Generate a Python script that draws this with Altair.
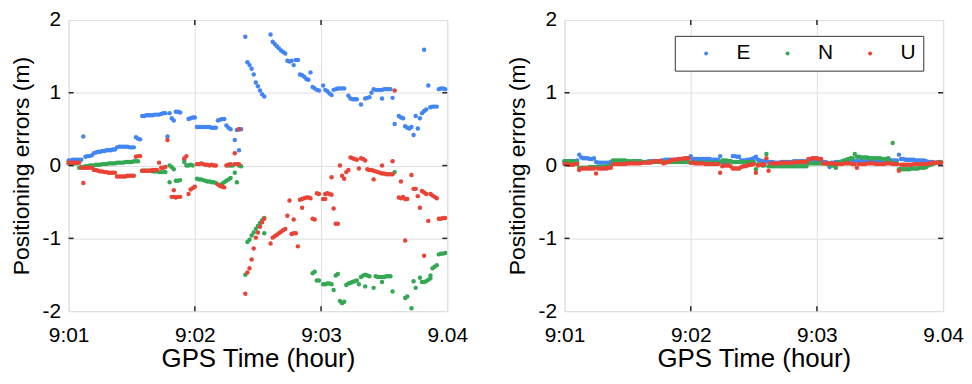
import altair as alt
import pandas as pd

# ---------------- data (time in seconds after 9:01, value in metres) ----------------
X_TICKS = [0, 60, 120, 180]
X_LABELS = ["9:01", "9:02", "9:03", "9.04"]
Y_TICKS = [-2, -1, 0, 1, 2]
INNER_X = [60, 120]
INNER_Y = [-1, 0, 1]
COMPONENTS = ["E", "N", "U"]
COLORS = ["#4285f4", "#34a853", "#ea4335"]

# each run: (start second, consecutive 1-s values)
LEFT_E = [
    (0, [0.07, 0.07, 0.08, 0.08, 0.08, 0.08, 0.08]), (7, [0.40]),
    (8, [0.12, 0.13, 0.13, 0.14]),
    (12, [0.17, 0.18, 0.19, 0.19, 0.20, 0.20, 0.21, 0.21, 0.21, 0.22, 0.22]),
    (23, [0.25, 0.26, 0.26, 0.26, 0.26, 0.26, 0.25, 0.25, 0.25]),
    (32, [0.39, 0.37, 0.36]),
    (35, [0.68, 0.68, 0.69, 0.69, 0.69, 0.69, 0.70, 0.70, 0.70, 0.71, 0.72, 0.72]),
    (47, [0.40]), (48, [0.72, 0.65, 0.62]), (51, [0.74, 0.74, 0.73]), (55, [0.08]),
    (57, [0.64, 0.65, 0.66, 0.66]),
    (61, [0.53, 0.53, 0.53, 0.53, 0.53, 0.53, 0.53, 0.52, 0.52, 0.52]),
    (71, [0.62, 0.63, 0.64, 0.64]), (75, [0.55, 0.52, 0.50]), (79, [0.35]),
    (80, [0.49, 0.50]), (81, [0.21]), (82, [0.50]),
    (84, [1.77, 1.42, 1.38, 1.33, 1.25, 1.14, 1.09, 1.03, 0.98, 0.95]),
    (96, [1.80, 1.70, 1.67, 1.64, 1.61, 1.58, 1.56, 1.54]),
    (104, [1.44, 1.43, 1.44, 1.38, 1.45, 1.45]),
    (110, [1.25, 1.24, 1.22, 1.19, 1.18]), (115, [1.28]),
    (116, [1.08, 1.06, 1.04, 1.03]), (121, [1.10]), (122, [1.04, 1.02, 0.99, 0.97]),
    (126, [1.04, 1.05, 1.06, 1.06, 1.06, 1.06]), (133, [0.96]),
    (134, [0.92, 0.91, 0.91, 0.91]), (139, [0.84]), (141, [0.92, 0.93, 0.94]),
    (144, [1.00, 1.05, 1.04, 1.04, 1.04, 1.04, 1.05, 1.05, 1.05, 1.05]),
    (149, [0.92]), (154, [0.93]), (155, [0.57]), (157, [0.68, 0.66, 0.65]),
    (160, [0.54, 0.52, 0.51, 0.53]), (164, [0.42]), (165, [0.68]), (166, [0.51]),
    (167, [0.65]), (168, [0.72, 0.75, 0.77]), (169, [1.59]), (171, [1.10]),
    (172, [0.80, 0.81, 0.81, 0.81]), (176, [1.05, 1.06, 1.06, 1.05]),
]
LEFT_N = [
    (0, [0.03, 0.03, 0.03, 0.03, 0.03]),
    (5, [-0.03, -0.02, -0.02, -0.01, -0.01, 0.00, 0.00, 0.00, 0.01, 0.01, 0.01, 0.02,
         0.02, 0.02, 0.03, 0.03, 0.03, 0.03, 0.04, 0.04, 0.04, 0.04, 0.05, 0.05, 0.05,
         0.05, 0.06, 0.06, 0.06]),
    (35, [-0.07, -0.07, -0.07, -0.07, -0.07, -0.08, -0.08, -0.08, -0.09, -0.09, -0.09, -0.09]),
    (48, [0.00, -0.02, -0.05]), (48, [-0.23]), (51, [-0.21, -0.21, -0.20]), (55, [0.05]),
    (56, [0.00, 0.00, 0.01, 0.00]),
    (61, [-0.18, -0.19, -0.19, -0.20, -0.21, -0.22, -0.22, -0.23, -0.23, -0.24]),
    (73, [-0.25, -0.23, -0.21, -0.19, -0.17]), (76, [0.00, 0.00, 0.00]), (79, [-0.10]),
    (80, [-0.23]), (81, [0.00, -0.01]),
    (84, [-1.50, -1.05, -1.02, -0.96, -0.92, -0.87, -0.83, -0.79, -0.75, -0.72]),
    (93, [-0.93]),
    (116, [-1.48, -1.46, -1.58, -1.58]), (121, [-1.63, -1.63, -1.62, -1.62, -1.63]),
    (126, [-1.71, -1.51, -1.49]), (129, [-1.86, -1.89, -1.87]),
    (132, [-1.64, -1.62, -1.61, -1.60, -1.59, -1.58]), (138, [-1.63]),
    (139, [-1.53, -1.51, -1.50, -1.51, -1.52]), (141, [-1.66]), (145, [-1.68]),
    (146, [-1.52, -1.53, -1.53, -1.53, -1.53, -1.52, -1.52, -1.52]), (149, [-1.60]),
    (154, [-1.73]), (155, [-0.09]), (160, [-1.82, -1.80]), (163, [-1.96]), (164, [-1.59]),
    (165, [-1.68]), (167, [-1.54]), (168, [-1.60, -1.60, -1.59, -1.57, -1.55]),
    (172, [-1.51]), (173, [-1.41, -1.39, -1.37]), (176, [-1.22, -1.21, -1.21, -1.20]),
]
LEFT_U = [
    (0, [0.04, 0.04, 0.04, 0.04, 0.04, 0.04]), (6, [-0.03, -0.03, -0.03, -0.03, -0.03, -0.03]),
    (7, [-0.24]),
    (12, [-0.06, -0.06, -0.07, -0.08, -0.08, -0.09, -0.09, -0.10, -0.10, -0.10, -0.10]),
    (23, [-0.15, -0.15, -0.15, -0.15, -0.15, -0.14, -0.14, -0.14, -0.14]),
    (32, [0.12, 0.13, 0.13]), (35, [-0.07, -0.07, -0.07, -0.07, -0.07, -0.06, -0.06, -0.06]),
    (43, [0.04]), (44, [-0.03, -0.03, -0.02]), (47, [0.35]),
    (49, [-0.43, -0.43, -0.44, -0.43, -0.43]), (50, [-0.34]), (55, [0.10, 0.13]),
    (57, [-0.39, -0.33, -0.31, -0.29]),
    (61, [0.02, 0.02, 0.03, 0.02, 0.01, 0.01, 0.00, 0.01, 0.00, 0.00]),
    (71, [-0.26, -0.28, -0.29, -0.30]), (75, [0.00, 0.01, 0.02]), (79, [0.17]),
    (79, [0.02, 0.02, 0.02]), (81, [0.50]),
    (84, [-1.76, -1.47, -1.41, -1.29, -1.14, -0.99, -0.92, -0.84, -0.78, -0.73]),
    (96, [-1.07, -0.99, -0.97, -0.95, -0.93, -0.91, -0.89, -0.87]),
    (104, [-0.69, -0.48]), (106, [-0.94, -0.93]), (107, [-0.74]), (108, [-0.93]),
    (109, [-1.11]), (110, [-0.47, -0.46, -0.45, -0.44, -0.44, -0.45]), (111, [-0.58]),
    (116, [-0.73, -0.74]), (118, [-0.38, -0.39]), (121, [-0.46, -0.46]),
    (122, [-0.39, -0.38, -0.39, -0.40]), (125, [-0.16]), (126, [-0.59]), (127, [-0.80, -0.80]),
    (129, [0.00]), (130, [-0.14, -0.18]), (132, [-0.09, -0.06]), (134, [0.11, 0.10, 0.09, 0.08]),
    (138, [-0.04]), (139, [0.10, 0.09, 0.07]),
    (142, [-0.05, -0.06, -0.06, -0.07, -0.08, -0.09, -0.10, -0.11, -0.11, -0.12, -0.12, -0.12, -0.12]),
    (145, [-0.19]), (149, [0.00]), (154, [0.06]), (155, [1.03]),
    (157, [-0.44, -0.45, -0.43, -0.46, -0.46]), (158, [-0.22]), (160, [-1.03]), (163, [-0.13]),
    (164, [-0.32, -0.32]), (166, [-0.42]), (167, [-0.58]), (168, [-0.35, -0.37, -0.39]),
    (169, [-1.24]), (171, [-0.76]), (172, [-0.39, -0.41, -0.43, -0.45]),
    (176, [-0.73, -0.73, -0.72, -0.72]),
]

RIGHT_E = [
    (0, [0.06, 0.06, 0.06, 0.06, 0.06, 0.06, 0.07]), (7, [0.15]),
    (8, [0.11, 0.10, 0.10, 0.10, 0.09, 0.09, 0.10]),
    (15, [0.05, 0.04, 0.04, 0.04, 0.04, 0.04, 0.04, 0.05]),
    (23, [0.05, 0.05, 0.05, 0.05, 0.06, 0.06, 0.06, 0.05, 0.05, 0.05, 0.06, 0.06, 0.06, 0.06,
          0.05, 0.05, 0.05, 0.06, 0.06, 0.06, 0.06, 0.06, 0.06, 0.07]),
    (47, [0.07, 0.08, 0.08, 0.08, 0.07, 0.08, 0.08, 0.08, 0.08, 0.09, 0.09, 0.09, 0.10]),
    (60, [0.13]),
    (61, [0.09, 0.09, 0.09, 0.09, 0.09, 0.09, 0.09, 0.09, 0.09, 0.08, 0.08, 0.08, 0.08]),
    (74, [0.13]), (75, [0.05, 0.05, 0.05, 0.05, 0.06]), (80, [0.13, 0.13, 0.12, 0.12]),
    (84, [0.07, 0.07, 0.07, 0.08, 0.08, 0.09, 0.10]), (91, [0.12]),
    (92, [0.08, 0.07, 0.06, 0.06, 0.06]),
    (97, [0.05, 0.05, 0.05, 0.04, 0.04, 0.04, 0.05, 0.05, 0.05, 0.05, 0.05, 0.05, 0.06, 0.06,
          0.06, 0.06, 0.06, 0.06, 0.06, 0.07, 0.07]),
    (118, [0.10]), (119, [0.07, 0.07, 0.06, 0.06, 0.05, 0.05, 0.04]), (126, [-0.02]),
    (127, [0.04, 0.04, 0.05, 0.05, 0.05, 0.05, 0.05, 0.05, 0.05, 0.05, 0.06]),
    (138, [0.06, 0.06, 0.06, 0.06, 0.06, 0.06, 0.06, 0.06, 0.06, 0.06, 0.06, 0.06, 0.06,
           0.07, 0.07, 0.07]),
    (154, [0.10]), (155, [0.07, 0.07, 0.07, 0.07]), (159, [0.15]),
    (160, [0.09, 0.09, 0.08, 0.08, 0.08, 0.08, 0.08, 0.07, 0.07, 0.07, 0.07, 0.07, 0.06]),
    (173, [0.05, 0.05, 0.05, 0.04, 0.04, 0.04, 0.04]),
]
RIGHT_N = [
    (0, [0.06, 0.06, 0.06, 0.06, 0.06, 0.05, 0.04]),
    (7, [-0.03, -0.03, -0.03, -0.03, -0.03, -0.02, -0.02, -0.02, -0.02, -0.02, -0.02, -0.02,
         -0.02, -0.01, -0.01, 0.00]),
    (23, [0.07, 0.07, 0.07, 0.07, 0.07, 0.07, 0.07, 0.06, 0.06, 0.06, 0.06, 0.06, 0.06, 0.06,
          0.05, 0.05, 0.05, 0.05, 0.05, 0.05, 0.05, 0.05, 0.05, 0.05]),
    (47, [0.05, 0.05, 0.05, 0.05, 0.05, 0.05, 0.05, 0.05, 0.05, 0.05, 0.05, 0.05, 0.05]),
    (60, [0.04, 0.04, 0.04, 0.04, 0.04, 0.04, 0.04, 0.04, 0.04, 0.04, 0.04, 0.04, 0.04, 0.04, 0.04]),
    (75, [0.07, 0.07, 0.07, 0.06, 0.06]),
    (80, [0.05, 0.05, 0.05, 0.05, 0.05, 0.05, 0.05, 0.05, 0.05, 0.05, 0.05]), (91, [-0.05]),
    (92, [0.02, 0.01, 0.00, 0.00]), (96, [0.16]),
    (97, [-0.01, -0.01, -0.01, -0.01, -0.01, -0.01, -0.01, -0.01, -0.01, -0.01, -0.01, -0.01,
          -0.01, -0.01, -0.01, -0.01, -0.01, -0.01, -0.01]),
    (116, [0.03, 0.03, 0.03, 0.03, 0.03, 0.03, 0.03, 0.03, 0.03]),
    (125, [0.02, 0.01, 0.00, 0.00]), (129, [-0.03]),
    (130, [0.04, 0.05, 0.06, 0.07, 0.08, 0.09, 0.10, 0.10]), (138, [0.16]),
    (139, [0.12, 0.12, 0.11, 0.11, 0.11, 0.11, 0.10, 0.10, 0.10, 0.10, 0.10, 0.10, 0.09, 0.09,
           0.09, 0.09]),
    (155, [0.05]), (156, [0.31]), (157, [0.03, 0.03]), (159, [-0.05]),
    (160, [-0.05, -0.05, -0.05, -0.05, -0.05, -0.04, -0.04, -0.04, -0.04, -0.03, -0.03, -0.03, -0.02]),
    (173, [0.00, 0.01, 0.02, 0.03, 0.04, 0.05, 0.05]),
]
RIGHT_U = [
    (0, [0.02, 0.02, 0.01, 0.01, 0.01, 0.02, 0.02]), (7, [-0.06]),
    (8, [-0.04, -0.04, -0.04, -0.04, -0.04, -0.04, -0.04, -0.11, -0.04, -0.04, -0.04, -0.04,
         -0.04, -0.03, -0.03]),
    (23, [0.02, 0.02, 0.02, 0.02, 0.02, 0.02, 0.02, 0.03, 0.03, 0.03, 0.03, 0.03, 0.03, 0.03,
          0.04, 0.04, 0.04, 0.04, 0.04]),
    (42, [0.06, 0.06, 0.06, 0.06, 0.06, 0.03, 0.04, 0.05, 0.06]),
    (51, [0.08, 0.08, 0.08, 0.09, 0.09, 0.09, 0.10, 0.10, 0.10]),
    (60, [0.04, 0.04, 0.03, 0.03, 0.03, 0.03, 0.03, 0.02, 0.02, 0.02, 0.02, 0.02, 0.02, 0.02]),
    (74, [-0.10]), (75, [-0.01, 0.00, 0.00, 0.00, -0.01]), (80, [-0.04, -0.04, -0.04, -0.04]),
    (84, [-0.02, -0.01, -0.01, 0.00, 0.01, 0.01, 0.02]), (91, [-0.10]),
    (92, [0.00, 0.01, 0.01, 0.02]), (96, [0.10]), (97, [-0.07]),
    (98, [0.03, 0.03, 0.03, 0.03, 0.03, 0.04, 0.04, 0.04, 0.04, 0.04, 0.04, 0.04, 0.05, 0.05,
          0.05, 0.05, 0.05, 0.05]),
    (116, [0.09, 0.09, 0.10, 0.10, 0.10, 0.09, 0.09]),
    (123, [0.03, 0.03, 0.03, 0.03, 0.03, 0.03, 0.02, 0.02, 0.02, 0.02, 0.03, 0.03, 0.03, 0.03,
           0.02, 0.02]),
    (139, [-0.03]),
    (140, [0.02, 0.02, 0.02, 0.02, 0.03, 0.03, 0.03, 0.03, 0.02, 0.02, 0.02, 0.02, 0.02, 0.03,
           0.03, 0.03, 0.02, 0.02, 0.02]),
    (159, [-0.07]),
    (160, [0.01, 0.01, 0.01, 0.01, 0.01, 0.01, 0.02, 0.02, 0.02, 0.02, 0.02, 0.02, 0.02]),
    (173, [0.03, 0.03, 0.04, 0.04, 0.04, 0.04, 0.04]),
]

FONT = "Liberation Sans"
W, H = 381, 293


def frame(series):
    rows = []
    for comp, runs in zip(COMPONENTS, series):
        for start, vals in runs:
            for i, v in enumerate(vals):
                rows.append({"t": start + i, "v": v, "c": comp})
    return pd.DataFrame(rows)


label_expr = " : ".join(
    f"datum.value == {v} ? '{l}'" for v, l in zip(X_TICKS, X_LABELS)
) + " : ''"

x_scale = alt.Scale(domain=[0, 180], nice=False, zero=False)
y_scale = alt.Scale(domain=[-2, 2], nice=False, zero=False)
x_axis = alt.Axis(values=X_TICKS, labelExpr=label_expr, title="GPS Time (hour)",
                  grid=True, gridColor="#e0e0e0", gridWidth=1, domain=False, ticks=False,
                  labelPadding=14, labelFontSize=21, labelColor="black", labelFont=FONT,
                  titleFontSize=26, titleFontWeight="normal", titleColor="black",
                  titleFont=FONT, titlePadding=0, labelFlush=False)
y_axis = alt.Axis(values=Y_TICKS, labelExpr="'' + datum.value", title="Positioning errors (m)",
                  grid=True, gridColor="#e0e0e0", gridWidth=1, domain=False, ticks=False,
                  labelPadding=8, labelFontSize=21, labelColor="black", labelFont=FONT,
                  titleFontSize=23, titleFontWeight="normal", titleColor="black",
                  titleFont=FONT, titlePadding=9, labelFlush=False)

tx = pd.DataFrame({"t": INNER_X})
ty = pd.DataFrame({"v": INNER_Y})
TICK_LEN = 5


def panel(series, legend):
    df = frame(series)
    pts = alt.Chart(df).mark_circle(size=20, opacity=1).encode(
        x=alt.X("t:Q", scale=x_scale, axis=x_axis),
        y=alt.Y("v:Q", scale=y_scale, axis=y_axis),
        color=alt.Color("c:N", scale=alt.Scale(domain=COMPONENTS, range=COLORS),
                        legend=legend),
    )
    tick_style = dict(color="#262626", strokeWidth=1.5)
    top = alt.Chart(tx).mark_rule(**tick_style).encode(
        x=alt.X("t:Q", scale=x_scale), y=alt.value(0), y2=alt.value(TICK_LEN))
    bottom = alt.Chart(tx).mark_rule(**tick_style).encode(
        x=alt.X("t:Q", scale=x_scale), y=alt.value(H), y2=alt.value(H - TICK_LEN))
    left = alt.Chart(ty).mark_rule(**tick_style).encode(
        y=alt.Y("v:Q", scale=y_scale), x=alt.value(0), x2=alt.value(TICK_LEN))
    right = alt.Chart(ty).mark_rule(**tick_style).encode(
        y=alt.Y("v:Q", scale=y_scale), x=alt.value(W), x2=alt.value(W - TICK_LEN))
    return alt.layer(pts, top, bottom, left, right).properties(width=W, height=H)


legend = alt.Legend(
    title=None, orient="none", legendX=111, legendY=16, direction="horizontal",
    strokeColor="#333333", fillColor="white", padding=7,
    symbolType="circle", symbolSize=16, symbolOffset=14, labelOffset=20,
    columnPadding=12, labelFontSize=21, labelFont=FONT, labelColor="black",
    symbolStrokeWidth=0, symbolOpacity=1,
)

left_chart = panel([LEFT_E, LEFT_N, LEFT_U], None)
right_chart = panel([RIGHT_E, RIGHT_N, RIGHT_U], legend)

# fixed-size canvas (autosize none): canvas = padding only, content origin at (left, top)
chart = alt.hconcat(left_chart, right_chart, spacing=37).resolve_scale(
    color="independent").resolve_legend(color="independent").properties(
    autosize=alt.AutoSizeParams(type="none"),
    padding={"left": 61, "top": 10, "right": 901, "bottom": 350},
).configure_view(stroke="#262626", strokeWidth=2).configure(font=FONT, background="white")

chart.save("out.html", embed_options={"renderer": "svg", "actions": False})
